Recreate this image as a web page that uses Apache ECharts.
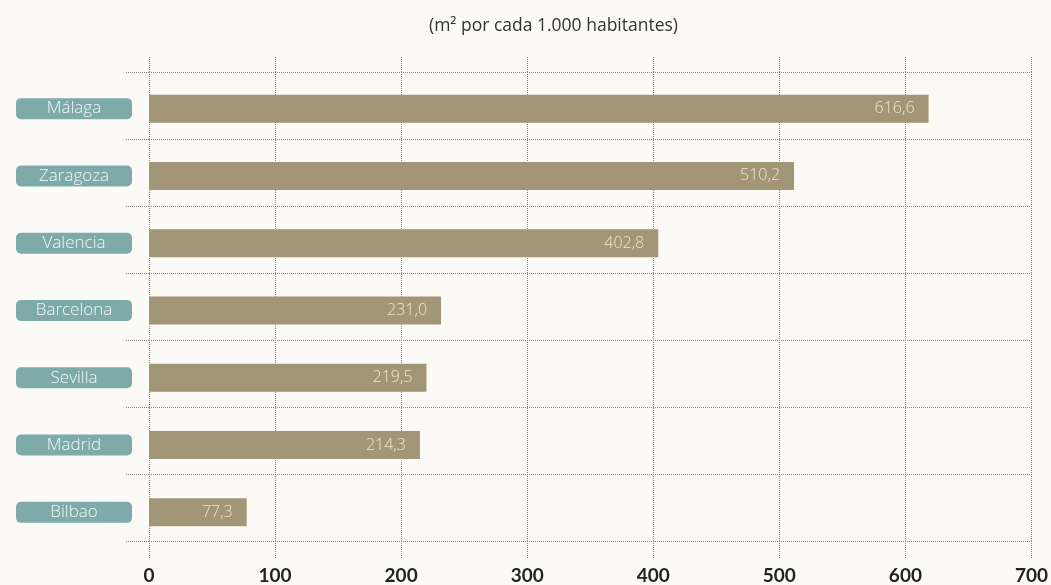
<!DOCTYPE html>
<html>
<head>
<meta charset="utf-8">
<script src="https://cdn.jsdelivr.net/npm/echarts@6/dist/echarts.min.js"></script>
<style>
html,body{margin:0;padding:0;background:#fbfaf6;}
#chart{width:1051px;height:585px;}
</style>
</head>
<body>
<div id="chart"></div>
<script>
const titleText = '(m² por cada 1.000 habitantes)';
const categories = ['Málaga', 'Zaragoza', 'Valencia', 'Barcelona', 'Sevilla', 'Madrid', 'Bilbao'];
const values = [616.6, 510.2, 402.8, 231.0, 219.5, 214.3, 77.3];
const xTicks = [0, 100, 200, 300, 400, 500, 600, 700];

const chart = echarts.init(document.getElementById('chart'));
const fontFam = '"Open Sans", Lato, "Noto Sans", sans-serif';
const gridLine = { color: '#8a8a8a', width: 1, type: 'dotted' };
const xMin = xTicks[0], xMax = xTicks[xTicks.length - 1];

chart.setOption({
  backgroundColor: '#fbfaf6',
  animation: false,
  title: {
    text: titleText,
    left: 424,
    top: 12,
    textStyle: { fontFamily: fontFam, fontSize: 17.5, fontWeight: 'normal', color: '#333' }
  },
  grid: [
    { left: 149, right: 17, top: 72, bottom: 42 },
    { left: 149, right: 17, top: 75, bottom: 39 }
  ],
  xAxis: [
    {
      type: 'value', position: 'bottom', gridIndex: 0,
      min: xMin, max: xMax, interval: 100,
      axisLine: { show: false },
      axisTick: { show: true, length: 17, lineStyle: gridLine },
      splitLine: { show: true, lineStyle: gridLine },
      axisLabel: {
        margin: 25, fontFamily: 'Lato, sans-serif', fontSize: 19, fontWeight: 'bold', color: '#222',
        formatter: v => String(v)
      }
    },
    {
      type: 'value', position: 'top', gridIndex: 0,
      min: xMin, max: xMax, interval: 100,
      axisLine: { show: false },
      axisTick: { show: true, length: 15, lineStyle: gridLine },
      splitLine: { show: false },
      axisLabel: { show: false }
    },
    {
      type: 'value', gridIndex: 1,
      min: xMin, max: xMax, interval: 100,
      show: false
    }
  ],
  yAxis: [
    {
      type: 'category', data: categories, inverse: true, position: 'left', gridIndex: 0,
      axisLine: { show: false },
      axisTick: { show: true, length: 24, lineStyle: gridLine },
      splitLine: { show: true, lineStyle: gridLine },
      axisLabel: { show: false }
    },
    {
      type: 'category', data: categories, inverse: true, position: 'right', gridIndex: 0,
      axisLine: { show: false },
      axisTick: { show: true, length: 17, lineStyle: gridLine },
      axisLabel: { show: false },
      splitLine: { show: false }
    },
    {
      type: 'category', data: categories, inverse: true, position: 'left', gridIndex: 1,
      axisLine: { show: false },
      axisTick: { show: false },
      splitLine: { show: false },
      axisLabel: {
        margin: 17,
        formatter: v => '{box|' + v + '}',
        rich: {
          box: {
            width: 116, height: 21, lineHeight: 21, align: 'center',
            backgroundColor: '#7eaaaa', borderRadius: 5,
            color: '#f4f8f8', fontFamily: fontFam, fontSize: 17, fontWeight: 300
          }
        }
      }
    }
  ],
  series: [{
    type: 'bar',
    xAxisIndex: 2,
    yAxisIndex: 2,
    data: values,
    barWidth: 28,
    itemStyle: { color: '#a39676' },
    label: {
      show: true, position: 'insideRight', distance: 14,
      color: '#ece4d0', fontFamily: fontFam, fontSize: 16, fontWeight: 300,
      formatter: p => p.value.toFixed(1).replace('.', ',')
    }
  }]
});
</script>
</body>
</html>
